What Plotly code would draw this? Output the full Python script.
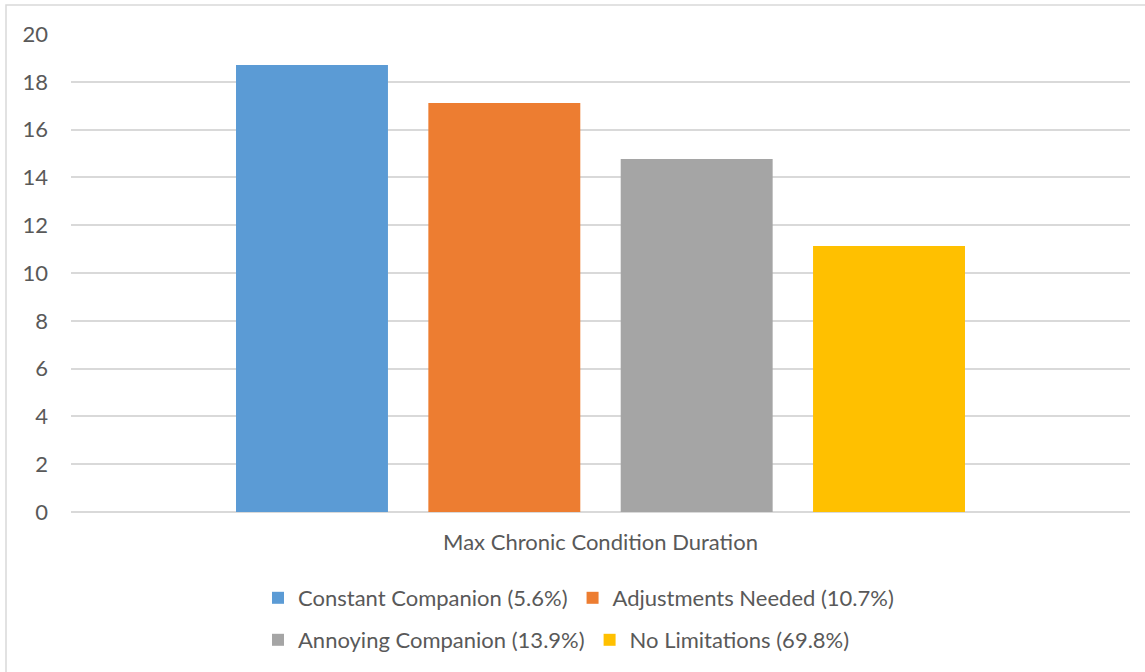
import plotly.graph_objects as go

category = ["Max Chronic Condition Duration"]
series_names = [
    "Constant Companion (5.6%)",
    "Adjustments Needed (10.7%)",
    "Annoying Companion (13.9%)",
    "No Limitations (69.8%)",
]
series_values = [18.70, 17.11, 14.77, 11.13]
series_colors = ["#5B9BD5", "#ED7D31", "#A5A5A5", "#FFC000"]
y_ticks = [0, 2, 4, 6, 8, 10, 12, 14, 16, 18, 20]

W, H = 1145, 672
ml, mr, mt, mb = 71, 15, 34, 160
pw = W - ml - mr
ph = H - mt - mb

FAMILY = "Lato, 'Open Sans', sans-serif"
font = dict(family=FAMILY, size=22, color="#595959")

# two legend rows: first two series on the top row, the rest below
legend_ids = ["legend", "legend", "legend2", "legend2"]

fig = go.Figure()
for name, val, col, lg in zip(series_names, series_values, series_colors, legend_ids):
    fig.add_trace(go.Bar(x=category, y=[val], name=name, marker_color=col,
                         marker_line_width=0, legend=lg))


def legend_row(y_px):
    return dict(orientation="h", xanchor="left", x=(258 - ml) / pw,
                yanchor="middle", y=(H - mb - y_px) / ph,
                font=font, itemwidth=30, traceorder="normal",
                bgcolor="rgba(0,0,0,0)")


fig.update_layout(
    width=W, height=H,
    margin=dict(l=ml, r=mr, t=mt, b=mb, autoexpand=False),
    paper_bgcolor="white", plot_bgcolor="white",
    barmode="group", bargap=0.2735, bargroupgap=0.21,
    font=font,
    showlegend=True,
    legend=legend_row(598),
    legend2=legend_row(640),
    xaxis=dict(showgrid=False, showline=False, ticks="", tickfont=font,
               zeroline=False, range=[-0.5, 0.5], ticklabelstandoff=15),
    yaxis=dict(range=[0, 20], tickvals=y_ticks, showgrid=True, gridcolor="#D9D9D9",
               gridwidth=1.5, zeroline=True, zerolinecolor="#D9D9D9", zerolinewidth=1.5,
               showline=False, ticks="", tickfont=font, ticklabelstandoff=22),
    shapes=[dict(type="rect", xref="paper", yref="paper",
                 x0=(6 - ml) / pw, x1=(W + 10 - ml) / pw,
                 y0=(H - mb - (H + 10)) / ph, y1=(H - mb - 5) / ph,
                 line=dict(color="#D9D9D9", width=1.5), fillcolor="rgba(0,0,0,0)",
                 layer="below")],
)

fig.write_html("out.html")
